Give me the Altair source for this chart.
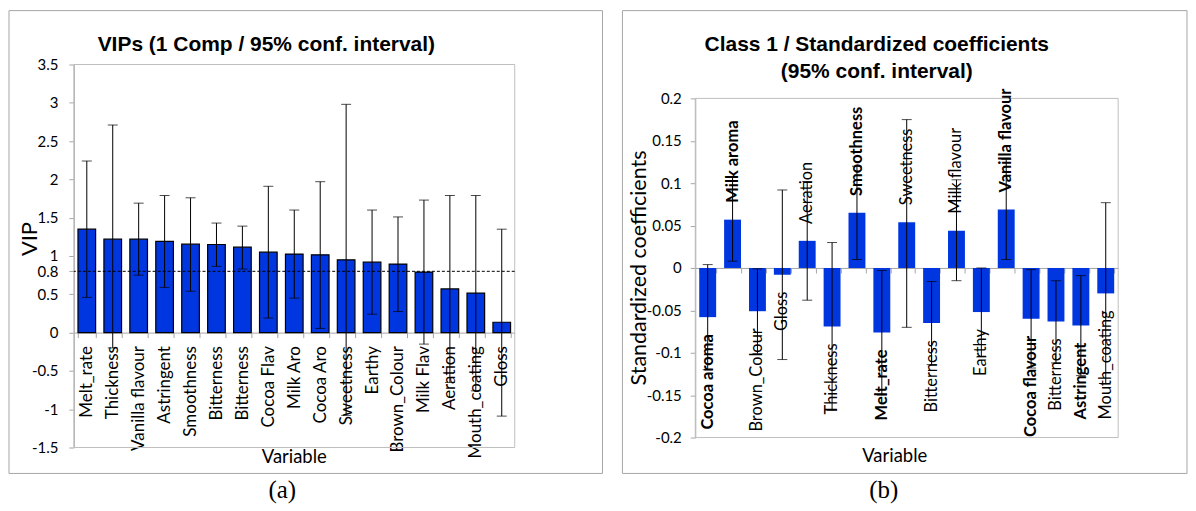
import altair as alt
import pandas as pd

# ---------------- data (a) VIPs ----------------
VIP_VARS = ["Melt_rate", "Thickness", "Vanilla flavour", "Astringent", "Smoothness",
            "Bitterness", "Bitterness", "Cocoa Flav", "Milk Aro", "Cocoa Aro",
            "Sweetness", "Earthy", "Brown_Colour", "Milk Flav", "Aeration",
            "Mouth_coating", "Gloss"]
VIP_VALUES = [1.35, 1.22, 1.22, 1.19, 1.155, 1.15, 1.115, 1.05, 1.025, 1.015,
              0.95, 0.92, 0.895, 0.79, 0.57, 0.515, 0.135]
VIP_LOW = [0.46, -0.2, 0.75, 0.59, 0.54, 0.865, 0.83, 0.19, 0.45, 0.055,
           -1.08, 0.24, 0.275, -0.15, -0.65, -0.76, -1.09]
VIP_HIGH = [2.24, 2.71, 1.69, 1.79, 1.76, 1.43, 1.39, 1.91, 1.60, 1.97,
            2.98, 1.60, 1.51, 1.73, 1.79, 1.79, 1.35]
VIP_THRESHOLD = [0.8]
VIP_TICKS = [-1.5, -1, -0.5, 0, 0.5, 0.8, 1, 1.5, 2, 2.5, 3, 3.5]
VIP_DOMAIN = [-1.5, 3.5]

# ---------------- data (b) standardized coefficients ----------------
COEF_VARS = ["Cocoa aroma", "Milk aroma", "Brown_Colour", "Gloss", "Aeration",
             "Thickness", "Smoothness", "Melt_rate", "Sweetness", "Bitterness",
             "Milk flavour", "Earthy", "Vanilla flavour", "Cocoa flavour",
             "Bitterness", "Astringent", "Mouth_coating"]
COEF_BOLD = [1, 1, 0, 0, 0, 0, 1, 1, 0, 0, 0, 0, 1, 1, 0, 1, 0]
COEF_VALUES = [-0.058, 0.057, -0.051, -0.008, 0.032, -0.069, 0.065, -0.076, 0.054,
               -0.065, 0.044, -0.052, 0.069, -0.060, -0.063, -0.068, -0.030]
COEF_LOW = [-0.120, 0.008, -0.101, -0.108, -0.038, -0.168, 0.010, -0.150, -0.070,
            -0.114, -0.015, -0.105, 0.010, -0.118, -0.112, -0.127, -0.137]
COEF_HIGH = [0.004, 0.107, -0.001, 0.092, 0.102, 0.030, 0.120, -0.003, 0.175,
             -0.016, 0.104, 0.000, 0.128, -0.002, -0.015, -0.009, 0.077]
COEF_TICKS = [-0.2, -0.15, -0.1, -0.05, 0, 0.05, 0.1, 0.15, 0.2]
COEF_DOMAIN = [-0.2, 0.2]

TITLE_A = "VIPs (1 Comp / 95% conf. interval)"
TITLE_B1 = "Class 1 / Standardized coefficients"
TITLE_B2 = "(95% conf. interval)"

# ---------------- style ----------------
BLUE = "#0036E0"
GRAY = "#A6A6A6"
BORDER = "#BFBFBF"
LABEL_FONT = "Lato"
TITLE_FONT = "Liberation Sans"
CAPTION_FONT = "Liberation Serif"

# panel (a): plot area
W1, H1 = 442, 384
# panel (b): both panels share the same origin row, so panel (b) is given the
# same total height and its y range starts lower
W2, H2_TOTAL, TOP2 = 424, 374, 34
H2 = H2_TOTAL - TOP2


def text_layer(txt, x, y, size, font, weight="normal", angle=0, align="center"):
    return alt.Chart(pd.DataFrame({"t": [txt]})).mark_text(
        font=font, fontSize=size, fontWeight=weight, angle=angle, align=align,
        baseline="middle", color="black"
    ).encode(text="t:N", x=alt.value(x), y=alt.value(y))


def frame_layer(x, x2, y, y2, color):
    return alt.Chart(pd.DataFrame({"f": [0]})).mark_rect(
        fill="white", fillOpacity=0, stroke=color, strokeWidth=1
    ).encode(x=alt.value(x), x2=alt.value(x2), y=alt.value(y), y2=alt.value(y2))


# ================= panel (a) =================
vip_df = pd.DataFrame({
    "idx": list(range(len(VIP_VARS))), "name": VIP_VARS,
    "value": VIP_VALUES, "lo": VIP_LOW, "hi": VIP_HIGH,
})
vip_label_expr = "[" + ",".join("'%s'" % n for n in VIP_VARS) + "][datum.value]"

y0_1 = H1 * VIP_DOMAIN[1] / (VIP_DOMAIN[1] - VIP_DOMAIN[0])
x1_axis = alt.Axis(
    title=None, offset=-(H1 - y0_1), labelExpr=vip_label_expr,
    labelAngle=-90, labelAlign="right", labelBaseline="middle",
    labelFont=LABEL_FONT, labelFontSize=17, labelColor="black", labelPadding=8,
    tickBand="extent", tickSize=5, tickColor=GRAY, domainColor=GRAY, labelLimit=300,
)
y1_axis = alt.Axis(
    title=None, values=VIP_TICKS, labelExpr="datum.value + ''", grid=False,
    labelFont=LABEL_FONT, labelFontSize=15, labelColor="black", labelPadding=11,
    labelOverlap=False, tickSize=5, tickColor=GRAY, domainColor=GRAY,
)
x1_scale = alt.Scale(paddingInner=0.32, paddingOuter=0.16)
y1_scale = alt.Scale(domain=VIP_DOMAIN, nice=False, zero=False)


def X1():
    return alt.X("idx:O", scale=x1_scale, axis=x1_axis)


def Y1(field):
    return alt.Y(field, type="quantitative", scale=y1_scale, axis=y1_axis)


base1 = alt.Chart(vip_df)
bars1 = base1.mark_bar(color=BLUE, stroke="black", strokeWidth=1.2).encode(
    x=X1(), y=Y1("value"), y2=alt.datum(0))
thr1 = alt.Chart(pd.DataFrame({"value": VIP_THRESHOLD})).mark_rule(
    color="black", strokeDash=[3, 2], strokeWidth=1).encode(y=Y1("value"))
err1 = base1.mark_rule(color="black", strokeWidth=1).encode(
    x=X1(), y=Y1("lo"), y2="hi:Q")
caplo1 = base1.mark_tick(color="black", thickness=1, size=10).encode(x=X1(), y=Y1("lo"))
caphi1 = base1.mark_tick(color="black", thickness=1, size=10).encode(x=X1(), y=Y1("hi"))

left = alt.layer(
    frame_layer(-65, 530, -54, 410, GRAY),
    frame_layer(0, W1, 0, H1, BORDER),
    bars1, thr1, err1, caplo1, caphi1,
    text_layer(TITLE_A, 193, -20, 21, TITLE_FONT, "bold"),
    text_layer("Variable", W1 / 2, 394, 18.5, LABEL_FONT),
    text_layer("VIP", -44, 175, 22, LABEL_FONT, angle=270),
    text_layer("(a)", 209, 427, 25, CAPTION_FONT),
).properties(width=W1, height=H1)

# ================= panel (b) =================
coef_df = pd.DataFrame({
    "idx": list(range(len(COEF_VARS))), "name": COEF_VARS, "bold": COEF_BOLD,
    "value": COEF_VALUES, "lo": COEF_LOW, "hi": COEF_HIGH,
})
y0_2 = TOP2 + H2 * COEF_DOMAIN[1] / (COEF_DOMAIN[1] - COEF_DOMAIN[0])
x2_axis = alt.Axis(
    title=None, offset=-(H2_TOTAL - y0_2), labels=False,
    tickBand="extent", tickSize=5, tickColor=GRAY, domainColor=GRAY,
)
y2_axis = alt.Axis(
    title=None, values=COEF_TICKS, labelExpr="datum.value + ''", grid=False,
    labelFont=LABEL_FONT, labelFontSize=15, labelColor="black", labelPadding=9,
    labelOverlap=False, tickSize=5, tickColor=GRAY, domainColor=GRAY,
)
x2_scale = alt.Scale(paddingInner=0.32, paddingOuter=0.16)
y2_scale = alt.Scale(domain=COEF_DOMAIN, nice=False, zero=False,
                     range=[H2_TOTAL, TOP2])


def X2():
    return alt.X("idx:O", scale=x2_scale, axis=x2_axis)


def Y2(field):
    return alt.Y(field, type="quantitative", scale=y2_scale, axis=y2_axis)


base2 = alt.Chart(coef_df)
bars2 = base2.mark_bar(color=BLUE).encode(x=X2(), y=Y2("value"), y2=alt.datum(0))


def label_layer(positive, bold):
    cond = ("datum.value > 0" if positive else "datum.value <= 0") + \
           (" && datum.bold == 1" if bold else " && datum.bold == 0")
    return base2.transform_filter(cond).mark_text(
        angle=270, align="left" if positive else "right", baseline="middle",
        dx=17 if positive else -17, font=LABEL_FONT, fontSize=16.5,
        fontWeight="bold" if bold else "normal", color="black",
    ).encode(x=X2(), y=Y2("value"), text="name:N")


err2 = base2.mark_rule(color="black", strokeWidth=1).encode(
    x=X2(), y=Y2("lo"), y2="hi:Q")
caplo2 = base2.mark_tick(color="black", thickness=1, size=10).encode(x=X2(), y=Y2("lo"))
caphi2 = base2.mark_tick(color="black", thickness=1, size=10).encode(x=X2(), y=Y2("hi"))

right = alt.layer(
    frame_layer(-73, 493, -54, 410, GRAY),
    frame_layer(0, W2, TOP2, H2_TOTAL, BORDER),
    bars2,
    label_layer(True, True), label_layer(True, False),
    label_layer(False, True), label_layer(False, False),
    err2, caplo2, caphi2,
    text_layer(TITLE_B1, 182, TOP2 - 54, 21, TITLE_FONT, "bold"),
    text_layer(TITLE_B2, 182, TOP2 - 26, 21, TITLE_FONT, "bold"),
    text_layer("Variable", 200, TOP2 + 359, 18.5, LABEL_FONT),
    text_layer("Standardized coefficients", -55, TOP2 + H2 / 2, 21.5, LABEL_FONT, angle=270),
    text_layer("(b)", 189, TOP2 + 393, 25, CAPTION_FONT),
).properties(width=W2, height=H2_TOTAL)

chart = alt.hconcat(left, right, spacing=18).properties(
    padding={"left": 0, "top": 1, "right": 0, "bottom": 0},
    background="white",
).configure_view(stroke="transparent", strokeWidth=0)

chart.save("out.html", embed_options={"renderer": "svg", "actions": False})
